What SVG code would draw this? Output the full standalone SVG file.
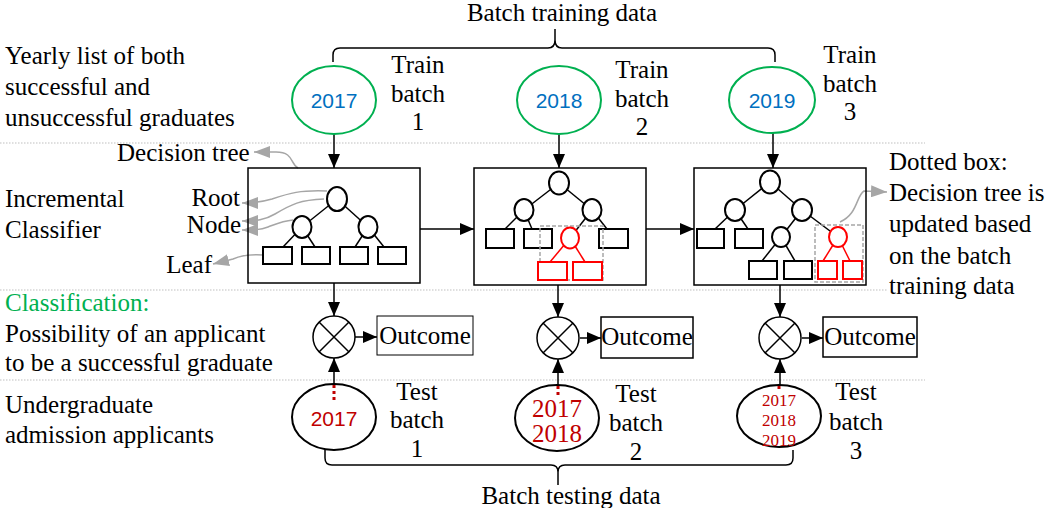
<svg xmlns="http://www.w3.org/2000/svg" width="1047" height="508" viewBox="0 0 1047 508">
<style>
.t{font-family:"Liberation Serif","Times New Roman",serif;font-size:25px;fill:#000}
.m{text-anchor:middle}
.e{text-anchor:end}
.s{font-family:"Liberation Sans",Arial,sans-serif;font-size:21px}
.sep{stroke:#BFBFBF;stroke-width:1;stroke-dasharray:1.5 1.5;fill:none}
.ln{stroke:#000;stroke-width:1.5;fill:none}
.gr{stroke:#A6A6A6;stroke-width:1.5;fill:none}
.gel{fill:#fff;stroke:#00B050;stroke-width:2}
.box{fill:none;stroke:#000;stroke-width:1.5}
.nd{fill:#fff;stroke:#000;stroke-width:2}
.lf{fill:#fff;stroke:#000;stroke-width:2}
.rn{fill:#fff;stroke:#FF0000;stroke-width:2}
.tl{stroke:#000;stroke-width:1.5}
.rl{stroke:#FF0000;stroke-width:1.5}
.db{fill:none;stroke:#A6A6A6;stroke-width:1.5;stroke-dasharray:4 2}
.red{stroke:#C00000;stroke-width:3;stroke-dasharray:3 3;fill:none}
.y3{fill:#C00000;font-size:17px}
</style>
<defs>
<marker id="ah" markerUnits="userSpaceOnUse" markerWidth="14" markerHeight="12" refX="14" refY="6" orient="auto"><path d="M0,0 L14,6 L0,12 z" fill="#000"/></marker>
<marker id="gh" markerUnits="userSpaceOnUse" markerWidth="16" markerHeight="12" refX="16" refY="6" orient="auto"><path d="M0,0 L16,6 L0,12 z" fill="#A6A6A6"/></marker>
</defs>
<rect width="1047" height="508" fill="#fff"/>

<g id="separators">
<line class="sep" x1="0" y1="143" x2="925" y2="143"/>
<line class="sep" x1="0" y1="290" x2="888" y2="290"/>
<line class="sep" x1="0" y1="380" x2="925" y2="380"/>
</g>

<g id="left-labels">
<text class="t" x="5" y="64">Yearly list of both</text>
<text class="t" x="5" y="95">successful and</text>
<text class="t" x="5" y="126">unsuccessful graduates</text>
<text class="t" x="5" y="207">Incremental</text>
<text class="t" x="5" y="238">Classifier</text>
<text class="t" x="5" y="311" style="fill:#00B050">Classification:</text>
<text class="t" x="5" y="342">Possibility of an applicant</text>
<text class="t" x="5" y="371">to be a successful graduate</text>
<text class="t" x="5" y="413">Undergraduate</text>
<text class="t" x="5" y="443">admission applicants</text>
</g>

<g id="train-brace">
<path class="ln" d="M555,29 V40 Q555,48 548,48 H340 Q333,48 333,55 V62 M555,40 Q555,48 562,48 H768 Q775,48 775,55 V62"/>
<text class="t m" x="562" y="21">Batch training data</text>
</g>

<g id="test-brace">
<path class="ln" d="M325,450 V458 Q325,465 332,465 H551 Q558,465 558,472 V485 M558,472 Q558,465 565,465 H786 Q793,465 793,458 V450"/>
<text class="t m" x="571" y="504">Batch testing data</text>
</g>

<g id="connectors">
<line class="ln" x1="334" y1="134" x2="334" y2="168" marker-end="url(#ah)"/>
<line class="ln" x1="559" y1="134" x2="559" y2="168" marker-end="url(#ah)"/>
<line class="ln" x1="773" y1="133" x2="773" y2="168" marker-end="url(#ah)"/>
<line class="ln" x1="420" y1="229" x2="474" y2="229" marker-end="url(#ah)"/>
<line class="ln" x1="646" y1="229" x2="694" y2="229" marker-end="url(#ah)"/>
<line class="ln" x1="334" y1="283" x2="334" y2="316" marker-end="url(#ah)"/>
<line class="ln" x1="558" y1="285" x2="558" y2="317" marker-end="url(#ah)"/>
<line class="ln" x1="780" y1="285" x2="780" y2="317" marker-end="url(#ah)"/>
<line class="ln" x1="355" y1="337" x2="377" y2="337" marker-end="url(#ah)"/>
<line class="ln" x1="580" y1="338" x2="601" y2="338" marker-end="url(#ah)"/>
<line class="ln" x1="802" y1="338" x2="823" y2="338" marker-end="url(#ah)"/>
<line class="ln" x1="334" y1="385" x2="334" y2="358" marker-end="url(#ah)"/>
<line class="ln" x1="558" y1="386" x2="558" y2="359" marker-end="url(#ah)"/>
<line class="ln" x1="780" y1="386" x2="780" y2="359" marker-end="url(#ah)"/>
<path class="gr" d="M298,168 C290,164 294,152 276,152 L254,152" marker-end="url(#gh)"/>
<path class="gr" d="M327,191 C300,190 290,193 272,199 C262,202 255,203 242,203" marker-end="url(#gh)"/>
<path class="gr" d="M324,199 C300,200 292,204 275,214 C265,220 256,221 242,221" marker-end="url(#gh)"/>
<path class="gr" d="M293,220 C282,221 276,224 268,227 C260,230 254,230 242,230" marker-end="url(#gh)"/>
<path class="gr" d="M263,255 C248,254 240,256 233,259 L213,264" marker-end="url(#gh)"/>
<path class="gr" d="M840,222 C858,214 856,196 864,191 L887,192" marker-end="url(#gh)"/>
</g>

<g id="train-2017">
<ellipse class="gel" cx="334" cy="100" rx="42" ry="34"/>
<text class="s m" x="334" y="108" style="fill:#0070C0">2017</text>
<text class="t m" x="418" y="73">Train</text>
<text class="t m" x="418" y="102">batch</text>
<text class="t m" x="418" y="130">1</text>
</g>
<g id="train-2018">
<ellipse class="gel" cx="559" cy="100" rx="42" ry="34"/>
<text class="s m" x="559" y="108" style="fill:#0070C0">2018</text>
<text class="t m" x="642" y="78">Train</text>
<text class="t m" x="642" y="107">batch</text>
<text class="t m" x="642" y="135">2</text>
</g>
<g id="train-2019">
<ellipse class="gel" cx="772" cy="100" rx="43" ry="33"/>
<text class="s m" x="772" y="108" style="fill:#0070C0">2019</text>
<text class="t m" x="850" y="63">Train</text>
<text class="t m" x="850" y="92">batch</text>
<text class="t m" x="850" y="120">3</text>
</g>

<g id="tree-labels">
<text class="t" x="117" y="161">Decision tree</text>
<text class="t e" x="240" y="206">Root</text>
<text class="t e" x="241" y="233">Node</text>
<text class="t e" x="212" y="273">Leaf</text>
</g>

<g id="classifier-1">
<rect class="box" x="248" y="168" width="172" height="115"/>
<line class="tl" x1="337" y1="199" x2="302" y2="227"/>
<line class="tl" x1="337" y1="199" x2="368" y2="227"/>
<line class="tl" x1="302" y1="227" x2="283" y2="247"/>
<line class="tl" x1="302" y1="227" x2="315" y2="247"/>
<line class="tl" x1="368" y1="227" x2="355" y2="247"/>
<line class="tl" x1="368" y1="227" x2="384" y2="247"/>
<ellipse class="nd" cx="337" cy="199" rx="10" ry="12"/>
<ellipse class="nd" cx="302" cy="227" rx="9.5" ry="11"/>
<ellipse class="nd" cx="368" cy="227" rx="9.5" ry="11"/>
<rect class="lf" x="263" y="247" width="29" height="17"/>
<rect class="lf" x="302" y="247" width="28" height="17"/>
<rect class="lf" x="340" y="247" width="28" height="17"/>
<rect class="lf" x="378" y="247" width="28" height="17"/>
</g>

<g id="classifier-2">
<rect class="box" x="474" y="168" width="172" height="117"/>
<line class="tl" x1="559" y1="183" x2="524" y2="210"/>
<line class="tl" x1="559" y1="183" x2="592" y2="210"/>
<line class="tl" x1="524" y1="210" x2="505" y2="229"/>
<line class="tl" x1="524" y1="210" x2="532" y2="229"/>
<line class="tl" x1="592" y1="210" x2="570" y2="238"/>
<line class="tl" x1="592" y1="210" x2="607" y2="229"/>
<line class="rl" x1="570" y1="238" x2="550" y2="262"/>
<line class="rl" x1="570" y1="238" x2="585" y2="262"/>
<ellipse class="nd" cx="559" cy="183" rx="10" ry="11.5"/>
<ellipse class="nd" cx="524" cy="210" rx="9.5" ry="11"/>
<ellipse class="nd" cx="592" cy="210" rx="9.5" ry="11"/>
<rect class="lf" x="486" y="229" width="28" height="19"/>
<rect class="lf" x="524" y="229" width="28" height="19"/>
<rect class="lf" x="599" y="229" width="29" height="19"/>
<rect class="db" x="540" y="226" width="63" height="54"/>
<ellipse class="rn" cx="570" cy="238" rx="9" ry="10.5"/>
<rect class="rn" x="538" y="262" width="29" height="18"/>
<rect class="rn" x="573" y="262" width="29" height="18"/>
</g>

<g id="classifier-3">
<rect class="box" x="694" y="168" width="172" height="117"/>
<line class="tl" x1="770" y1="182" x2="735" y2="210"/>
<line class="tl" x1="770" y1="182" x2="802" y2="210"/>
<line class="tl" x1="735" y1="210" x2="715" y2="229"/>
<line class="tl" x1="735" y1="210" x2="748" y2="229"/>
<line class="tl" x1="802" y1="210" x2="781" y2="237"/>
<line class="tl" x1="802" y1="210" x2="838" y2="237"/>
<line class="tl" x1="781" y1="237" x2="762" y2="261"/>
<line class="tl" x1="781" y1="237" x2="795" y2="261"/>
<line class="rl" x1="838" y1="237" x2="823" y2="261"/>
<line class="rl" x1="838" y1="237" x2="850" y2="261"/>
<ellipse class="nd" cx="770" cy="182" rx="10" ry="11.5"/>
<ellipse class="nd" cx="735" cy="210" rx="10" ry="11"/>
<ellipse class="nd" cx="802" cy="210" rx="10" ry="11"/>
<rect class="lf" x="697" y="229" width="27" height="19"/>
<rect class="lf" x="735" y="229" width="28" height="19"/>
<ellipse class="nd" cx="781" cy="237" rx="9" ry="10"/>
<rect class="lf" x="749" y="261" width="28" height="18"/>
<rect class="lf" x="784" y="261" width="28" height="18"/>
<rect class="db" x="815" y="225" width="48" height="57"/>
<ellipse class="rn" cx="838" cy="237" rx="9" ry="10"/>
<rect class="rn" x="818" y="261" width="19" height="18"/>
<rect class="rn" x="843" y="261" width="19" height="18"/>
</g>

<g id="dotted-box-note">
<text class="t" x="889" y="170">Dotted box:</text>
<text class="t" x="889" y="201">Decision tree is</text>
<text class="t" x="889" y="232">updated based</text>
<text class="t" x="889" y="264">on the batch</text>
<text class="t" x="889" y="294">training data</text>
</g>

<g id="combine-1">
<circle cx="334" cy="337" r="21" fill="#fff" stroke="#000" stroke-width="1.5"/>
<path class="ln" d="M319,322 L349,352 M349,322 L319,352"/>
</g>
<g id="combine-2">
<circle cx="558" cy="338" r="21" fill="#fff" stroke="#000" stroke-width="1.5"/>
<path class="ln" d="M543,323 L573,353 M573,323 L543,353"/>
</g>
<g id="combine-3">
<circle cx="780" cy="338" r="21" fill="#fff" stroke="#000" stroke-width="1.5"/>
<path class="ln" d="M765,323 L795,353 M795,323 L765,353"/>
</g>

<g id="outcome-1">
<rect x="377" y="316" width="96" height="39" fill="#fff" stroke="#000" stroke-width="1"/>
<text class="t m" x="425" y="344">Outcome</text>
</g>
<g id="outcome-2">
<rect x="601" y="317" width="92" height="41" fill="#fff" stroke="#000" stroke-width="1.5"/>
<text class="t m" x="647" y="345">Outcome</text>
</g>
<g id="outcome-3">
<rect x="823" y="317" width="94" height="40" fill="#fff" stroke="#000" stroke-width="1.5"/>
<text class="t m" x="870" y="345">Outcome</text>
</g>

<g id="test-1">
<ellipse cx="334" cy="417" rx="42" ry="33" fill="#fff" stroke="#000" stroke-width="2"/>
<line class="red" x1="334" y1="385" x2="334" y2="403"/>
<text class="s m" x="334" y="426" style="fill:#C00000">2017</text>
<text class="t m" x="417" y="400">Test</text>
<text class="t m" x="417" y="428">batch</text>
<text class="t m" x="417" y="457">1</text>
</g>
<g id="test-2">
<ellipse cx="557" cy="418" rx="42" ry="33" fill="#fff" stroke="#000" stroke-width="2"/>
<line class="red" x1="558" y1="386" x2="558" y2="398"/>
<text class="t m" x="557" y="417" style="fill:#C00000">2017</text>
<text class="t m" x="557" y="442" style="fill:#C00000">2018</text>
<text class="t m" x="636" y="402">Test</text>
<text class="t m" x="636" y="431">batch</text>
<text class="t m" x="636" y="460">2</text>
</g>
<g id="test-3">
<ellipse cx="779" cy="416" rx="42" ry="31" fill="#fff" stroke="#000" stroke-width="2"/>
<line class="red" x1="779" y1="386" x2="779" y2="392"/>
<text class="t m y3" x="779" y="406">2017</text>
<text class="t m y3" x="779" y="426">2018</text>
<text class="t m y3" x="779" y="446">2019</text>
<text class="t m" x="856" y="400">Test</text>
<text class="t m" x="856" y="430">batch</text>
<text class="t m" x="856" y="459">3</text>
</g>
</svg>
